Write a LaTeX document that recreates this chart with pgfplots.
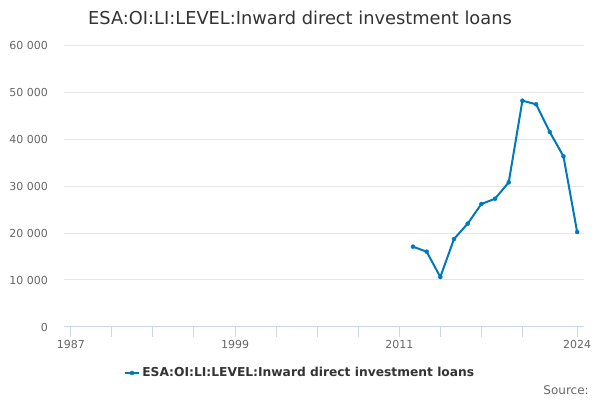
\documentclass[border=0pt]{standalone}
\usepackage{pgfplots}
\pgfplotsset{compat=1.18}
\usepackage{fontspec}
\setmainfont{DejaVu Sans}
\definecolor{serie}{RGB}{0,120,190}
\definecolor{axisc}{HTML}{CCD6EB}
\definecolor{gridc}{HTML}{E6E6E6}
\definecolor{labc}{HTML}{666666}
\definecolor{titc}{HTML}{333333}

\begin{document}
\begin{tikzpicture}
\path[use as bounding box] (0pt,0pt) rectangle (450pt,300pt);
\node[text=titc, font=\fontsize{13.35pt}{16pt}\selectfont] at (225pt,286.5pt)
  {ESA:OI:LI:LEVEL:Inward direct investment loans};
\begin{axis}[
    at={(48pt,54.75pt)}, anchor=south west,
    scale only axis,
    width=390pt, height=211.5pt,
    xmin=1986.5, xmax=2024.5,
    ymin=0, ymax=60000,
    axis x line*=bottom,
    axis y line*=left,
    y axis line style={draw=none},
    x axis line style={draw=axisc, line width=0.75pt},
    ytick={0,10000,...,60000},
    ymajorgrids,
    major grid style={draw=gridc, line width=0.75pt},
    ytick style={draw=none},
    xtick={1987,1990,...,2020,2024},
    xticklabels={1987,,,,1999,,,,2011,,,,2024},
    xtick style={draw=axisc, line width=0.75pt},
    tick align=outside,
    major tick length=7.5pt,
    tick label style={text=labc, font=\fontsize{8.25pt}{10pt}\selectfont},
    yticklabel style={xshift=-1pt},
    xticklabel style={yshift=1pt},
    scaled y ticks=false,
    /pgf/number format/.cd, assume math mode=true, 1000 sep={\ },
    /pgfplots/.cd,
    legend style={at={(0.455,-0.163)}, anchor=center, draw=none, fill=none,
      font=\bfseries\fontsize{9.2pt}{11pt}\selectfont, text=titc},
    legend image code/.code={
      \draw[#1, mark repeat=2, mark phase=2] plot coordinates {(0pt,0pt) (5pt,0pt) (10pt,0pt)};
    },
    clip=false,
  ]
\addplot[color=serie, line width=1.5pt, mark=*, mark size=1.5pt,
  mark options={line width=0.3pt}] coordinates {
  (2012,17090) (2013,16030) (2014,10640) (2015,18720) (2016,21990)
  (2017,26170) (2018,27300) (2019,30780) (2020,48160) (2021,47380)
  (2022,41490) (2023,36310) (2024,20210)
};
\addlegendentry{ESA:OI:LI:LEVEL:Inward direct investment loans}
\end{axis}
\node[anchor=east, inner sep=0pt, text=labc, font=\fontsize{9pt}{11pt}\selectfont] at (441.75pt,7.5pt) {Source:};
\end{tikzpicture}
\end{document}
